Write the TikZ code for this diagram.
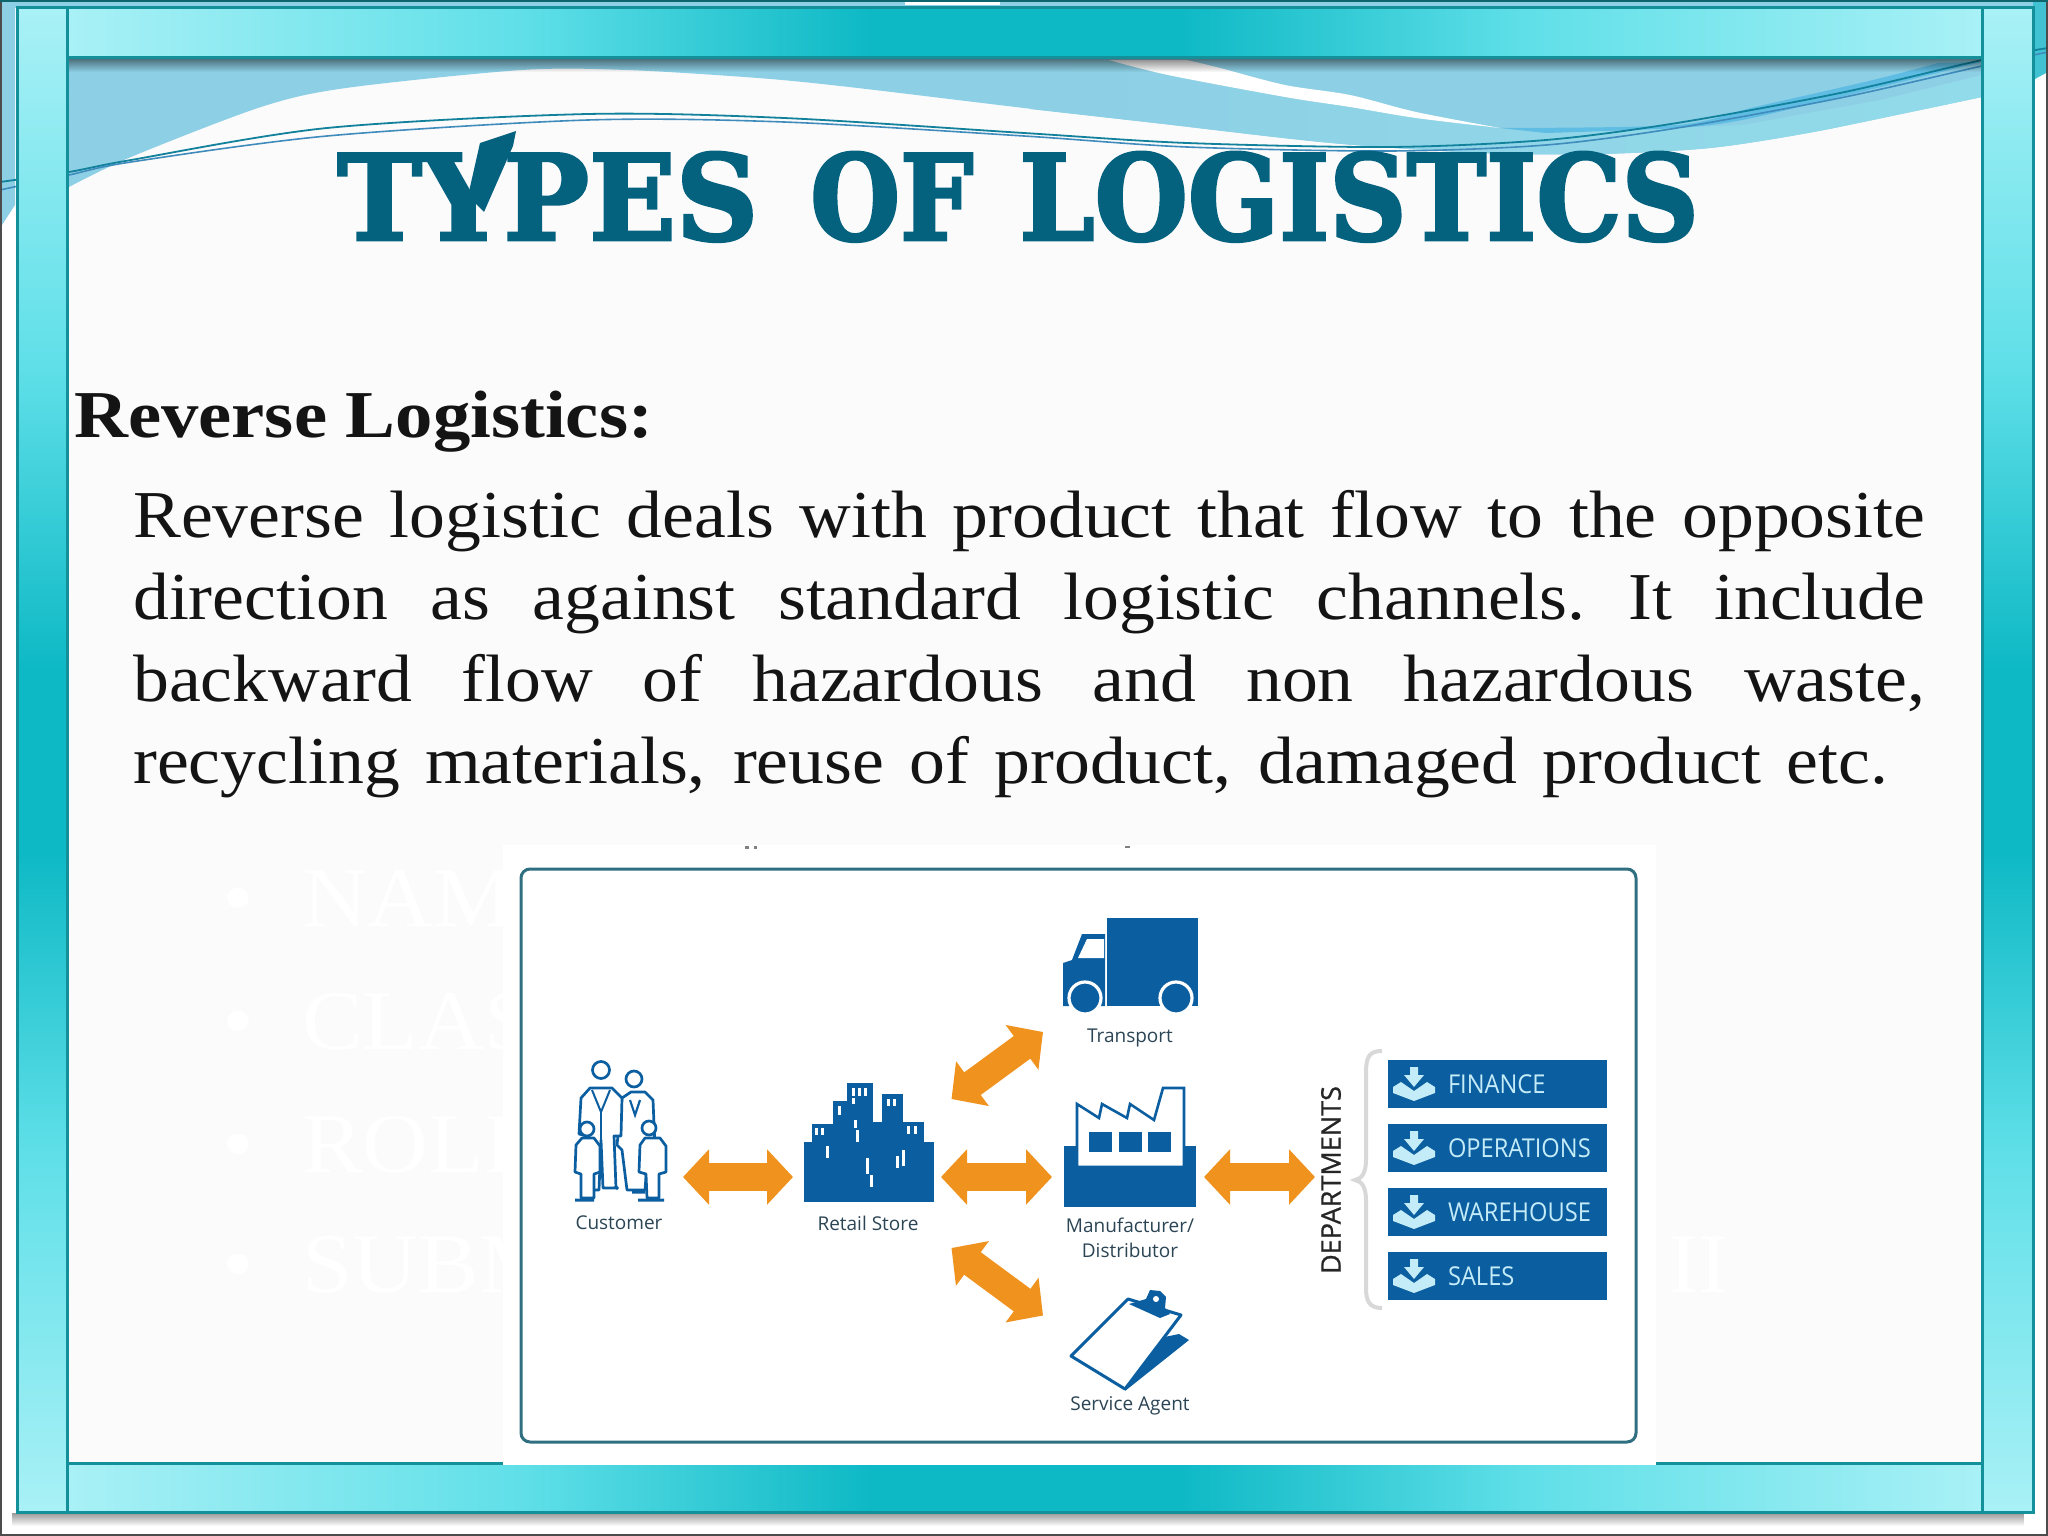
\documentclass[tikz,border=0pt]{standalone}
\usepackage{graphicx}
\usepackage{fontspec}
\setmainfont{Liberation Serif}
\newfontfamily\bodyfont[FakeStretch=1.07]{Liberation Serif}
\newfontfamily\headfont[FakeStretch=1.115]{Liberation Serif}
\newfontfamily\titlefont[FakeBold=2.5]{DejaVu Serif Bold}
\newfontfamily\labfont{Open Sans}
\newfontfamily\deptfont[FakeStretch=.91]{Open Sans}
\newfontfamily\deptheadfont[FakeBold=.7]{Open Sans}
\usetikzlibrary{arrows.meta,fadings,calc}
\definecolor{pagebg}{HTML}{FBFBFC}
\definecolor{wavea}{HTML}{8DCFE5}
\definecolor{waveb}{HTML}{92DBEA}
\definecolor{wavec}{HTML}{5FBDE3}
\definecolor{barlight}{HTML}{A9F1F6}
\definecolor{barmid}{HTML}{0DB9C5}
\definecolor{barq}{HTML}{5FDFE8}
\definecolor{barline}{HTML}{14909A}
\definecolor{titleblue}{HTML}{05627F}
\definecolor{iconblue}{HTML}{0B5EA0}
\definecolor{arroworange}{HTML}{F0921E}
\definecolor{deptlight}{HTML}{C4ECF8}
\definecolor{labelgrey}{HTML}{2C4555}
\definecolor{bracegrey}{HTML}{D8D8D8}
\definecolor{boxline}{HTML}{2F6F80}
\pgfdeclarehorizontalshading{hframe}{100bp}{color(0bp)=(barlight);color(25bp)=(barlight);color(37bp)=(barq);color(46bp)=(barmid);color(54bp)=(barmid);color(63bp)=(barq);color(75bp)=(barlight);color(100bp)=(barlight)}
\pgfdeclareverticalshading{vframe}{100bp}{color(0bp)=(barlight);color(25bp)=(barlight);color(37bp)=(barq);color(47bp)=(barmid);color(53bp)=(barmid);color(63bp)=(barq);color(75bp)=(barlight);color(100bp)=(barlight)}
\newcommand{\bodyline}[2]{\hbox to #1pt{\fontsize{67}{80}\bodyfont\spaceskip=.25em plus 1fil minus .2em\xspaceskip=\spaceskip\relax #2}}
\tikzset{
  hbar/.style={draw=barline,line width=3pt,shading=hframe},
  vbar/.style={draw=barline,line width=3pt,shading=vframe},
  biarrow/.style={draw=arroworange,line width=28pt,{Triangle[length=26pt,width=54pt]}-{Triangle[length=26pt,width=54pt]}},
  iconbox/.style={inner sep=0pt,outer sep=0pt},
  smalllabel/.style={font=\labfont\fontsize{19}{23}\selectfont,text=labelgrey,inner sep=0pt,align=center},
  deptbar/.style={fill=iconblue,minimum width=219pt,minimum height=48pt,inner sep=0pt,text width=219pt,align=left,text=deptlight,font=\deptfont\fontsize{26}{30}\selectfont},
  bodytext/.style={anchor=base west,inner sep=0pt,text=black!92},
  ghost/.style={anchor=base west,inner sep=0pt,text=white,font=\bodyfont\fontsize{85}{90}\selectfont},
  person/.style={draw=iconblue,fill=white,line width=2.7pt,line join=round}
}
\begin{document}
\begin{tikzpicture}[x=1pt,y=-1pt]
\useasboundingbox (0,0) rectangle (2048,1536);
% outer page
\fill[white] (0,0) rectangle (2048,1536);
\fill[wavea] (0,0) rectangle (2048,8);
\fill[wavea] (0,0) -- (15,0) -- (15,205) -- (0,228) -- cycle;
\fill[barmid!60!wavea] (2033,0) -- (2048,0) -- (2048,72) -- (2033,80) -- cycle;
\fill[white] (905,0) rectangle (1000,5);
% slide page
\fill[pagebg] (67,58) rectangle (1982,1464);
% waves
\fill[wavea] (67,58) -- (1982,58) -- (1982,97) -- plot[smooth] coordinates {(1982,97) (1906,113) (1808,133) (1710,148) (1600,154) (1481,153) (1331,143) (1155,123) (1024,108) (849,87) (758,78) (627,70) (522,70) (346,88) (261,107) (131,157) (69,187)} -- cycle;
\path[left color=wavea,right color=waveb] (1030,109) -- plot[smooth] coordinates {(1030,109) (1155,123) (1331,143) (1481,153) (1600,154) (1710,148) (1808,133) (1906,113) (1982,97)} -- (1982,75) -- (1880,100) -- (1742,125) -- (1546,133) -- (1500,128) -- (1416,118) -- (1285,97) -- (1168,75) -- (1109,60) -- (1030,60) -- cycle;
\fill[white] (1109,60) -- plot[smooth] coordinates {(1109,60) (1168,75) (1285,97) (1350,107) (1416,118) (1500,128)} -- plot[smooth] coordinates {(1500,128) (1416,112) (1350,95) (1285,85) (1220,68) (1187,60)} -- cycle;
\fill[wavec] (1500,128) -- plot[smooth] coordinates {(1500,128) (1677,125) (1755,107) (1873,80) (1938,63)} -- (1982,62) -- plot[smooth] coordinates {(1982,62) (1840,97) (1742,120) (1677,128) (1546,133)} -- cycle;
% wave lines
\draw[barline!70!iconblue,line width=1.8pt] plot[smooth] coordinates {(0,182) (69,172) (131,160) (327,128) (588,114) (784,118) (1024,133) (1187,143) (1390,147) (1546,140) (1677,123) (1840,93) (1982,60) (2048,48)};
\draw[iconblue!60!wavea,line width=1.6pt] plot[smooth] coordinates {(0,190) (69,175) (131,162) (327,136) (588,120) (784,122) (1024,136) (1187,147) (1390,151) (1546,145) (1677,128) (1840,98) (1982,66) (2048,52)};
% shadows
\fill[black,opacity=.45,path fading=south] (67,59) rectangle (1982,72);
\fill[black,opacity=.4,path fading=south] (15,1513) rectangle (2033,1526);
% frame bars
\path[hbar] (67,8) rectangle (1982,58);
\path[hbar] (67,1463) rectangle (1982,1512);
\path[vbar] (17,8) rectangle (67,1512);
\path[vbar] (1982,8) rectangle (2033,1512);
% faded background text
\node[ghost] (g1) at (222,926) {•};
\node[ghost] (g2) at (222,1049) {•};
\node[ghost] (g3) at (222,1172) {•};
\node[ghost] (g4) at (222,1292) {•};
\node[ghost] (g5) at (302,926) {NAM};
\node[ghost] (g6) at (302,1049) {CLAS};
\node[ghost] (g7) at (302,1172) {ROLL};
\node[ghost] (g8) at (302,1292) {SUBM};
\node[ghost] (g9) at (1668,1292) {II};
% title
\node[anchor=base west,inner sep=0pt,text=titleblue] (title) at (337,240) {\resizebox{421pt}{88pt}{\titlefont TYPES}\hspace{52pt}\resizebox{163pt}{88pt}{\titlefont OF}\hspace{46pt}\resizebox{679pt}{88pt}{\titlefont LOGISTICS}};
\fill[titleblue] (480,143) -- (516,131) -- (513,146) -- (484,212) -- (468,196) -- cycle;
% text
\node[bodytext,font=\fontsize{67}{80}\selectfont\headfont\bfseries] (head) at (74,437) {Reverse Logistics:};
\node[bodytext] (l1) at (133,537) {\bodyline{1792}{Reverse logistic deals with product that flow to the opposite}};
\node[bodytext] (l2) at (133,619) {\bodyline{1792}{direction as against standard logistic channels. It include}};
\node[bodytext] (l3) at (133,701) {\bodyline{1792}{backward flow of hazardous and non hazardous waste,}};
\node[bodytext] (l4) at (133,783) {\bodyline{1755}{recycling materials, reuse of product, damaged product etc.}};
% picture box
\fill[white] (503,845) rectangle (1656,1465);
\fill[gray] (745,846) rectangle (749,849);
\fill[gray] (754,846) rectangle (757,849);
\fill[gray] (1125,846) rectangle (1130,848);
\draw[boxline,line width=3pt,rounded corners=9pt] (521,869) rectangle (1636,1442);
% invisible anchors
\node[iconbox,minimum width=110pt,minimum height=120pt] (customer) at (628,1177) {};
\node[iconbox,minimum width=148pt,minimum height=120pt] (retail) at (867,1177) {};
\node[iconbox,minimum width=152pt,minimum height=120pt] (factory) at (1128,1177) {};
\node[iconbox,minimum width=174pt,minimum height=124pt] (truck) at (1130,970) {};
\node[iconbox,minimum width=174pt,minimum height=100pt] (agent) at (1130,1365.5) {};
\node[iconbox,minimum width=40pt,minimum height=100pt] (depts) at (1335,1177) {};
\coordinate (retailup) at (951.5,1099);
\coordinate (retaildown) at (951.5,1248);
% truck
\fill[iconblue] (1107,918) rectangle (1198,1006);
\fill[iconblue] (1105,934) -- (1082,934) -- (1072,960) -- (1063,963) -- (1063,1006) -- (1105,1006) -- cycle;
\fill[white] (1087,939) -- (1104,939) -- (1104,958) -- (1078,958) -- cycle;
\draw[white,line width=3.2pt,fill=iconblue] (1085,998) circle (16);
\draw[white,line width=3.2pt,fill=iconblue] (1176,998) circle (16);
% retail
\fill[iconblue] (804,1142) rectangle (934,1202);
\fill[iconblue] (847,1083) rectangle (873,1142);
\fill[iconblue] (833,1101) rectangle (847,1142);
\fill[iconblue] (812,1124) rectangle (833,1142);
\fill[iconblue] (873,1122) rectangle (883,1142);
\fill[iconblue] (882,1094) rectangle (903,1142);
\fill[iconblue] (903,1122) rectangle (924,1142);
\foreach \wx/\wy/\wh in {852/1088/8,858/1088/8,864/1088/8,852/1098/6,838/1106/9,815/1128/7,821/1128/7,887/1099/7,893/1099/7,907/1126/8,914/1126/8,856/1130/12,826/1146/12,866/1158/16,870/1175/12,902/1150/16,896/1156/12,854/1120/8}{
  \fill[white] (\wx,\wy) rectangle ++(3,\wh);
}
% factory
\fill[iconblue] (1064,1146) rectangle (1196,1207);
\draw[iconblue,line width=2.6pt,fill=white,line join=miter] (1077,1104) -- (1099,1118) -- (1102,1104) -- (1127,1118) -- (1130,1104) -- (1154,1120) -- (1163,1088) -- (1184,1088) -- (1184,1167) -- (1077,1167) -- cycle;
\foreach \fx in {1089,1119,1148}{\fill[iconblue] (\fx,1132) rectangle ++(23,20);}
% clipboard
\fill[iconblue] (1150,1340) -- (1179,1334) -- (1189,1340) -- (1125,1391) -- cycle;
\draw[iconblue,line width=3pt,fill=white,line join=round] (1128,1299) -- (1181,1315) -- (1125,1389) -- (1071,1356) -- cycle;
\fill[iconblue] (1129,1304) -- (1146,1299) -- (1150,1290) -- (1160,1291) -- (1166,1297) -- (1165,1308) -- (1170,1314) -- (1160,1318) -- cycle;
\fill[white] (1156,1299) circle (3);
% family
\filldraw[person] (622,1098) -- (631,1092) -- (645,1092) -- (653,1100) -- (655,1148) -- (648,1150) -- (645,1190) -- (627,1190) -- (622,1150) -- (617,1145) -- cycle;
\filldraw[person] (634,1079) circle (8);
\draw[iconblue,line width=2.2pt] (630,1100) -- (635,1115) -- (640,1100);
\filldraw[person] (581,1098) -- (590,1088) -- (612,1088) -- (622,1098) -- (621,1136) -- (614,1136) -- (616,1188) -- (603,1188) -- (601,1140) -- (599,1190) -- (586,1190) -- (587,1136) -- (579,1134) -- cycle;
\filldraw[person] (601,1070) circle (8.5);
\draw[iconblue,line width=2pt] (592,1090) -- (601,1112) -- (610,1090);
\draw[iconblue,line width=2pt] (601,1112) -- (601,1140);
\filldraw[person] (576,1145) -- (582,1138) -- (594,1138) -- (600,1146) -- (600,1172) -- (594,1174) -- (594,1198) -- (581,1198) -- (581,1174) -- (575,1172) -- cycle;
\filldraw[person] (587,1129) circle (7);
\filldraw[person] (640,1145) -- (645,1138) -- (660,1138) -- (666,1146) -- (666,1172) -- (659,1174) -- (659,1198) -- (647,1198) -- (646,1174) -- (639,1172) -- cycle;
\filldraw[person] (649,1128) circle (7);
\draw[iconblue,line width=3pt] (575,1200) -- (594,1200) (615,1186) -- (618,1189) (632,1192) -- (645,1192) (638,1200) -- (664,1200);
% connectors
\draw[biarrow] (customer.east) -- (retail.west);
\draw[biarrow] (retail.east) -- (factory.west);
\draw[biarrow] (factory.east) -- (depts.west);
\draw[biarrow] (retailup) -- (truck.south west);
\draw[biarrow] (retaildown) -- (agent.north west);
% labels
\node[smalllabel] (ltruck) at (1130,1038) {Transport};
\node[smalllabel] (lcust) at (619,1223) {Customer};
\node[smalllabel] (lret) at (868,1223) {Retail Store};
\node[smalllabel] (lman) at (1130,1238) {Manufacturer/\\[2pt]Distributor};
\node[smalllabel] (lserv) at (1130,1406) {Service Agent};
% departments
\node[rotate=90,inner sep=0pt,text=black!85,font=\deptheadfont\fontsize{27}{30}\selectfont] (deptlabel) at (1331,1180) {DEPARTMENTS};
\draw[bracegrey,line width=4pt] (1382,1051) .. controls (1370,1051) and (1366,1056) .. (1366,1072) -- (1366,1160) .. controls (1366,1172) and (1362,1179) .. (1355,1180) .. controls (1362,1181) and (1366,1188) .. (1366,1200) -- (1366,1288) .. controls (1366,1302) and (1370,1308) .. (1382,1308);
\foreach \yy/\nm/\lab in {1084/bfin/FINANCE,1148/bope/OPERATIONS,1212/bwar/WAREHOUSE,1276/bsal/SALES}{
  \node[deptbar] (\nm) at (1497.5,\yy) {\hspace*{60pt}\lab};
  \begin{scope}[shift={(1414,\yy)}]
    \fill[deptlight] (-4,-17) -- (4,-17) -- (4,-9) -- (10,-9) -- (0,3) -- (-10,-9) -- (-4,-9) -- cycle;
    \fill[deptlight] (-21,3) -- (-13,-2) -- (0,7) -- (13,-2) -- (21,3) -- (21,9) -- (0,17) -- (-21,9) -- cycle;
  \end{scope}
}
% page edge
\draw[black!70,line width=2pt] (1,0) -- (1,1535) -- (2047,1535) -- (2047,0);
\draw[barline!70!black,line width=2pt] (0,1) -- (2048,1);
\end{tikzpicture}
\end{document}
